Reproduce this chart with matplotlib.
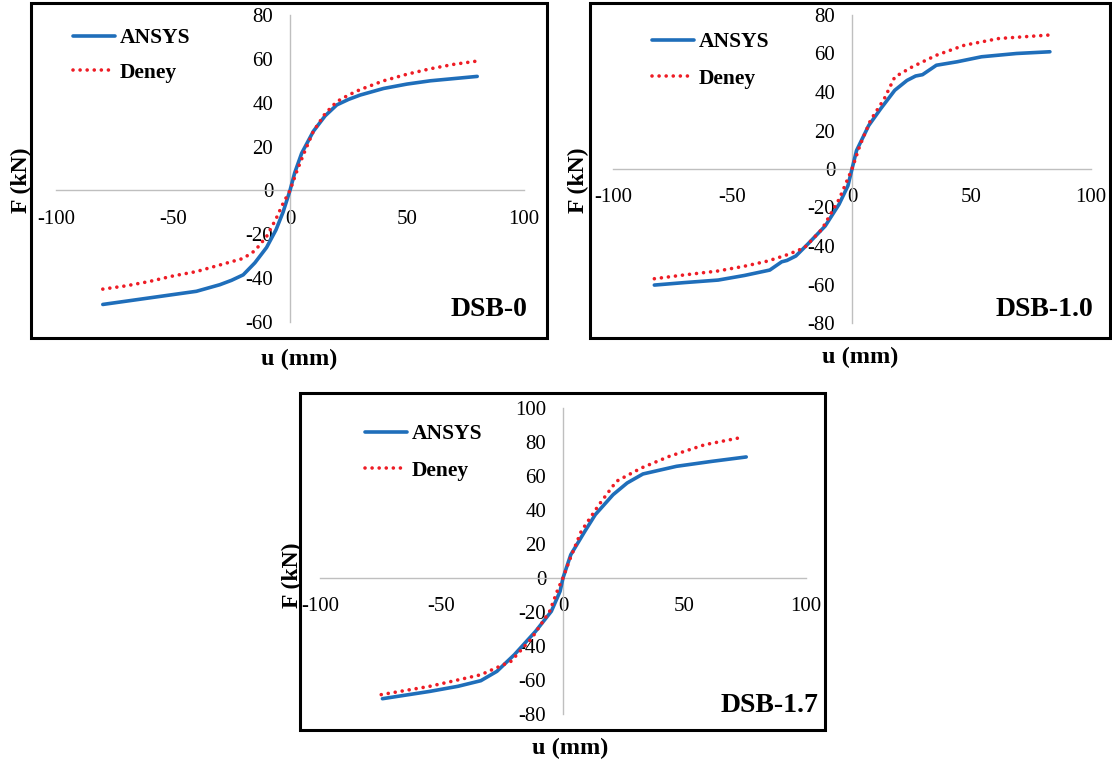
import matplotlib
matplotlib.use("Agg")
import matplotlib.pyplot as plt
from matplotlib.patches import Rectangle

plt.rcParams['font.family'] = ['Liberation Serif', 'DejaVu Serif']
plt.rcParams['axes.unicode_minus'] = False

# ---------------- data ----------------
# DSB-0
u0_ansys = [-80, -70, -60, -50, -40, -30, -25, -20, -15, -10, -6, -3, 0, 2, 5, 10, 15, 20, 25, 30, 40, 50, 60, 70, 80]
f0_ansys = [-52, -50.5, -49, -47.5, -46, -43, -41, -38.5, -33, -26, -18, -10, 0, 8, 17, 27, 34, 39, 41.5, 43.5, 46.5, 48.5, 50, 51, 52]
u0_deney = [-80, -70, -60, -50, -40, -30, -20, -15, -10, -6, -3, 0, 3, 6, 10, 15, 20, 25, 30, 40, 50, 60, 70, 80]
f0_deney = [-45, -43.5, -41.5, -39, -37, -34, -31, -27.5, -21, -13, -6, 0, 9, 17, 27, 35, 40.5, 43.5, 46, 50, 53, 55.5, 57.5, 59]

# DSB-1.0
u1_ansys = [-82.7, -70, -56, -45, -34.4, -29.4, -27.2, -23.5, -18.5, -11.2, -5.4, -1.7, 0, 1.9, 7, 12, 17.9, 23, 26.6, 29.5, 35.3, 44, 54.2, 68.8, 82.8]
f1_ansys = [-60.3, -59, -57.7, -55.3, -52.5, -48.2, -47.5, -45.2, -39, -29.6, -18.3, -8.7, 0, 9.6, 22.6, 31.3, 40.9, 46, 48.3, 49, 53.9, 55.7, 58.3, 60, 60.9]
u1_deney = [-82.7, -70, -56.2, -45, -35.2, -27, -19.9, -12.6, -5.4, 0, 3.3, 7.7, 13.5, 17.9, 25.1, 35.3, 47, 61.5, 82.6]
f1_deney = [-57, -55, -53, -50.5, -47.8, -44.5, -40.9, -31.3, -15.7, 0, 12.2, 25.2, 36.5, 47.8, 53, 59.1, 64.3, 67.8, 69.6]

# DSB-1.7
u2_ansys = [-74.3, -54.8, -43.2, -33.8, -27.2, -20, -11.3, -4.8, -1.2, 0, 3.2, 9, 13.3, 20.6, 26.4, 32.9, 46.7, 61.2, 75.4]
f2_ansys = [-71, -66.7, -63.7, -60.4, -54.9, -45.1, -31.4, -19.6, -7.8, 0, 13.7, 27.5, 37.3, 49, 55.9, 61.2, 65.7, 68.6, 71.2]
u2_deney = [-74.8, -54.8, -33.8, -21.4, -12.8, -5.5, -1.9, 0, 2.5, 7.5, 14.8, 22, 32.2, 43.8, 58.3, 74.2]
f2_deney = [-68.6, -63.7, -56.9, -49, -35.3, -19.6, -5.9, 0, 9.8, 27.5, 43.1, 56.9, 64.7, 71.6, 78.4, 82.9]

x_ticks = [-100, -50, 0, 50, 100]
y_ticks_0 = [-60, -40, -20, 0, 20, 40, 60, 80]
y_ticks_1 = [-80, -60, -40, -20, 0, 20, 40, 60, 80]
y_ticks_2 = [-80, -60, -40, -20, 0, 20, 40, 60, 80, 100]
panel_names = ['DSB-0', 'DSB-1.0', 'DSB-1.7']
series_names = ['ANSYS', 'Deney']

# ---------------- layout ----------------
W, H = 1112, 766
fig = plt.figure(figsize=(W / 100, H / 100), dpi=100)

BLUE = '#1F6EBA'
RED = '#EE1C25'
GRID = '#BFBFBF'


def px_axes(x0, x1, y0, y1):
    return fig.add_axes([x0 / W, 1 - y1 / H, (x1 - x0) / W, (y1 - y0) / H])


def frame(x0, x1, y0, y1):
    fig.add_artist(Rectangle((x0 / W, 1 - y1 / H), (x1 - x0) / W, (y1 - y0) / H,
                             transform=fig.transFigure, fill=False,
                             edgecolor='black', linewidth=2.2, zorder=10))


panels = [
    dict(ax=(56, 524, 15, 322), frame=(31, 547, 3, 338), ylim=(-60, 80), yt=y_ticks_0,
         ua=u0_ansys, fa=f0_ansys, ud=u0_deney, fd=f0_deney,
         ylab=(21, 180), xlab=(299, 359), name=(527, 310), leg=(73, 28), ls=0.68),
    dict(ax=(613, 1091, 15, 323), frame=(590, 1110, 3, 338), ylim=(-80, 80), yt=y_ticks_1,
         ua=u1_ansys, fa=f1_ansys, ud=u1_deney, fd=f1_deney,
         ylab=(578, 180), xlab=(860, 357), name=(1093, 310), leg=(652, 32), ls=0.78),
    dict(ax=(320, 806, 408, 714), frame=(300, 825, 393, 730), ylim=(-80, 100), yt=y_ticks_2,
         ua=u2_ansys, fa=f2_ansys, ud=u2_deney, fd=f2_deney,
         ylab=(292, 575), xlab=(570, 748), name=(818, 705), leg=(365, 424), ls=0.78),
]

for p, name in zip(panels, panel_names):
    ax = px_axes(*p['ax'])
    ax.set_xlim(-100, 100)
    ax.set_ylim(*p['ylim'])
    ax.set_facecolor('none')
    for s in ['top', 'right']:
        ax.spines[s].set_visible(False)
    ax.spines['left'].set_position(('data', 0))
    ax.spines['bottom'].set_position(('data', 0))
    for s in ['left', 'bottom']:
        ax.spines[s].set_color(GRID)
        ax.spines[s].set_linewidth(1.0)
    ax.set_xticks(x_ticks)
    ax.set_yticks(p['yt'])
    ax.tick_params(axis='x', length=0, pad=14, labelsize=15)
    ax.tick_params(axis='y', length=0, pad=12, labelsize=15)
    ax.plot(p['ua'], p['fa'], color=BLUE, lw=2.6, label=series_names[0],
            solid_capstyle='round', zorder=3)
    ax.plot(p['ud'], p['fd'], color=RED, lw=2.6, ls=(0, (0.01, 1.95)),
            dash_capstyle='round', label=series_names[1], zorder=4)
    lx, ly = p['leg']
    ax.legend(loc='upper left', bbox_to_anchor=(lx / W, 1 - ly / H),
              bbox_transform=fig.transFigure, frameon=False,
              prop=dict(family='Liberation Serif', weight='bold', size=15.5),
              handlelength=1.95, handletextpad=0.2, labelspacing=p['ls'],
              borderpad=0, borderaxespad=0)
    frame(*p['frame'])
    yx, yy = p['ylab']
    fig.text(yx / W, 1 - yy / H, 'F (kN)', rotation=90, ha='center', va='center',
             fontsize=17, fontweight='bold')
    xx, xy = p['xlab']
    fig.text(xx / W, 1 - xy / H, 'u (mm)', ha='center', va='center',
             fontsize=17.5, fontweight='bold')
    nx, ny = p['name']
    fig.text(nx / W, 1 - ny / H, name, ha='right', va='center',
             fontsize=20, fontweight='bold')

fig.savefig('out.png', dpi=100)
